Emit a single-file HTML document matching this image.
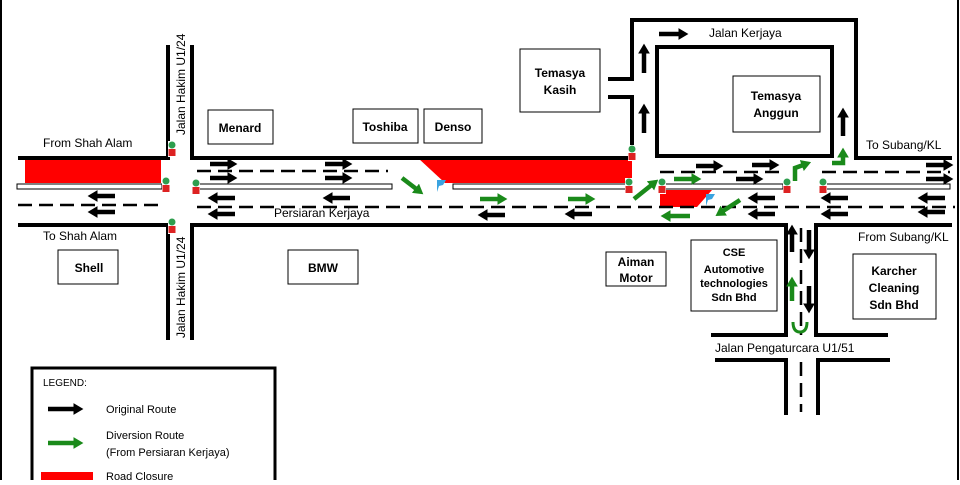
<!DOCTYPE html>
<html><head><meta charset="utf-8"><style>
body{margin:0;background:#fff}
svg text{font-family:"Liberation Sans",sans-serif;fill:#000}
</style></head><body>
<svg width="960" height="480" viewBox="0 0 960 480" xmlns="http://www.w3.org/2000/svg">
<defs>
<marker id="ab" markerWidth="2.2" markerHeight="2.6" refX="1" refY="1.3" orient="auto" markerUnits="strokeWidth"><path d="M0,0 L2.2,1.3 L0,2.6z" fill="#000"/></marker>
<marker id="ag" markerWidth="2.2" markerHeight="2.6" refX="1" refY="1.3" orient="auto" markerUnits="strokeWidth"><path d="M0,0 L2.2,1.3 L0,2.6z" fill="#1a8a1a"/></marker>
<g id="tl"><rect x="-4" y="-8" width="8" height="16" fill="#fff"/><circle cx="0" cy="-4" r="3.5" fill="#2e9e4e"/><rect x="-3.5" y="0" width="7" height="7" fill="#d22"/></g>
</defs>
<rect x="0" y="0" width="960" height="480" fill="#fff"/>
<line x1="1" y1="0" x2="1" y2="480" stroke="#000" stroke-width="2"/>
<line x1="958" y1="0" x2="958" y2="480" stroke="#000" stroke-width="2"/>

<!-- boxes -->
<g fill="#fff" stroke="#000" stroke-width="1">
<rect x="208" y="110" width="65" height="34"/><rect x="353" y="109" width="65" height="34"/>
<rect x="424" y="109" width="58" height="34"/><rect x="520" y="49" width="80" height="63"/>
<rect x="733" y="76" width="87" height="56"/><rect x="288" y="250" width="70" height="34"/>
<rect x="606" y="252" width="60" height="34"/><rect x="58" y="250" width="60" height="34"/>
<rect x="691" y="240" width="86" height="71"/><rect x="853" y="254" width="83" height="65"/>
<rect x="32" y="368" width="243" height="120" stroke-width="3"/>
</g>
<rect x="41" y="472" width="52" height="10" fill="#f00"/>

<!-- red closures -->
<rect x="25" y="158" width="136" height="25" fill="#f00"/>
<polygon points="418,158 632,158 632,183 453,183 445,183" fill="#f00"/>
<polygon points="660,190 712,190 697,207 660,207" fill="#f00"/>

<g stroke="#000" stroke-width="4" fill="none">
<polyline points="18,158 168,158 168,45"/>
<polyline points="192,45 192,158 632,158 632,97 608,97"/>
<polyline points="608,79 632,79 632,20 856,20 856,158 952,158"/>
<rect x="657" y="47" width="175" height="109"/>
<polyline points="18,225 168,225 168,340"/>
<polyline points="192,340 192,225 786,225 786,335 711,335"/>
<polyline points="888,335 816,335 816,225 952,225"/>
<polyline points="715,360 786,360 786,415"/>
<polyline points="890,360 818,360 818,415"/>
</g>
<!-- medians -->
<g fill="#fff" stroke="#000" stroke-width="1">
<rect x="17" y="184" width="145" height="5"/>
<rect x="197" y="184" width="195" height="5"/>
<rect x="453" y="184" width="175" height="5"/>
<rect x="665" y="184" width="118" height="5"/>
<rect x="822" y="184" width="128" height="5"/>
</g>
<g stroke="#000" stroke-width="2.5" stroke-dasharray="14,7" fill="none">
<line x1="18" y1="205" x2="162" y2="205"/>
<line x1="197" y1="171" x2="388" y2="171"/>
<line x1="197" y1="207" x2="955" y2="207"/>
<line x1="660" y1="172" x2="785" y2="172"/>
<line x1="822" y1="172" x2="950" y2="172"/>
<line x1="801" y1="228" x2="801" y2="335"/>
<line x1="801" y1="362" x2="801" y2="412"/>
</g>

<!-- black arrows -->
<g stroke="#000" stroke-width="4.5" marker-end="url(#ab)">
<line x1="210" y1="164" x2="232" y2="164"/><line x1="210" y1="178" x2="232" y2="178"/>
<line x1="325" y1="164" x2="347" y2="164"/><line x1="325" y1="178" x2="347" y2="178"/>
<line x1="115" y1="196" x2="93" y2="196"/><line x1="115" y1="212" x2="93" y2="212"/>
<line x1="235" y1="198" x2="213" y2="198"/><line x1="235" y1="214" x2="213" y2="214"/>
<line x1="350" y1="198" x2="328" y2="198"/>
<line x1="505" y1="215" x2="483" y2="215"/><line x1="592" y1="214" x2="570" y2="214"/>
<line x1="696" y1="166" x2="718" y2="166"/><line x1="752" y1="165" x2="774" y2="165"/>
<line x1="736" y1="179" x2="758" y2="179"/>
<line x1="775" y1="198" x2="753" y2="198"/><line x1="775" y1="214" x2="753" y2="214"/>
<line x1="848" y1="198" x2="826" y2="198"/><line x1="848" y1="214" x2="826" y2="214"/>
<line x1="926" y1="165" x2="948" y2="165"/><line x1="926" y1="179" x2="948" y2="179"/>
<line x1="945" y1="198" x2="923" y2="198"/><line x1="945" y1="212" x2="923" y2="212"/>
<line x1="659" y1="34" x2="683" y2="34"/>
<line x1="644" y1="73" x2="644" y2="49"/><line x1="644" y1="133" x2="644" y2="109"/>
<line x1="843" y1="136" x2="843" y2="113"/>
<line x1="792" y1="252" x2="792" y2="230"/>
<line x1="809" y1="230" x2="809" y2="254"/><line x1="809" y1="286" x2="809" y2="308"/>
<line x1="48" y1="409" x2="78" y2="409"/>
</g>
<!-- green arrows -->
<g stroke="#1a8a1a" stroke-width="4.5" marker-end="url(#ag)" fill="none">
<line x1="402" y1="178" x2="419" y2="191"/>
<line x1="480" y1="199" x2="502" y2="199"/><line x1="568" y1="199" x2="590" y2="199"/>
<line x1="634" y1="199" x2="654" y2="183"/>
<line x1="674" y1="179" x2="696" y2="179"/>
<line x1="690" y1="216" x2="666" y2="216"/>
<line x1="740" y1="200" x2="720" y2="213"/>
<polyline points="795,181 795,168 806,164"/>
<polyline points="832,163 843,163 843,153"/>
<line x1="792" y1="301" x2="792" y2="282"/>
<line x1="48" y1="443" x2="78" y2="443"/>
</g>
<path d="M793,322 Q793,332 800,332 Q807,332 807,322" stroke="#1a8a1a" stroke-width="3" fill="none"/>
<!-- flags -->
<path d="M437,192 L437,180 L446,180 L443,185 L439,186z" fill="#3aa3e0"/>
<path d="M706,206 L706,194 L715,194 L712,199 L708,200z" fill="#3aa3e0"/>

<!-- traffic lights -->
<use href="#tl" x="172" y="149"/><use href="#tl" x="166" y="185"/><use href="#tl" x="196" y="187"/>
<use href="#tl" x="172" y="226"/><use href="#tl" x="632" y="153"/><use href="#tl" x="629" y="186"/>
<use href="#tl" x="662" y="186"/><use href="#tl" x="787" y="186"/><use href="#tl" x="823" y="186"/>

<g font-size="12" font-weight="bold" text-anchor="middle">
<text x="240" y="132">Menard</text><text x="385" y="131">Toshiba</text><text x="453" y="131">Denso</text>
<text x="560" y="77">Temasya</text><text x="560" y="94">Kasih</text>
<text x="776" y="100">Temasya</text><text x="776" y="117">Anggun</text>
<text x="323" y="272">BMW</text><text x="89" y="272">Shell</text>
<text x="636" y="266">Aiman</text><text x="636" y="282">Motor</text>
<text x="734" y="256" font-size="11">CSE</text><text x="734" y="273" font-size="11">Automotive</text>
<text x="734" y="287" font-size="11">technologies</text><text x="734" y="301" font-size="11">Sdn Bhd</text>
<text x="894" y="275">Karcher</text><text x="894" y="292">Cleaning</text><text x="894" y="309">Sdn Bhd</text>
</g>
<g font-size="12">
<text x="43" y="147">From Shah Alam</text><text x="43" y="240">To Shah Alam</text>
<text x="274" y="217">Persiaran Kerjaya</text>
<text x="709" y="37">Jalan Kerjaya</text>
<text x="866" y="149">To Subang/KL</text><text x="858" y="241">From Subang/KL</text>
<text x="715" y="352">Jalan Pengaturcara U1/51</text>
<text transform="translate(185,135) rotate(-90)">Jalan Hakim U1/24</text>
<text transform="translate(185,338) rotate(-90)">Jalan Hakim U1/24</text>
</g>
<g font-size="11">
<text x="43" y="386" font-size="10">LEGEND:</text>
<text x="106" y="413">Original Route</text>
<text x="106" y="439">Diversion Route</text>
<text x="106" y="456">(From Persiaran Kerjaya)</text>
<text x="106" y="480">Road Closure</text>
</g>
</svg>
</body></html>
